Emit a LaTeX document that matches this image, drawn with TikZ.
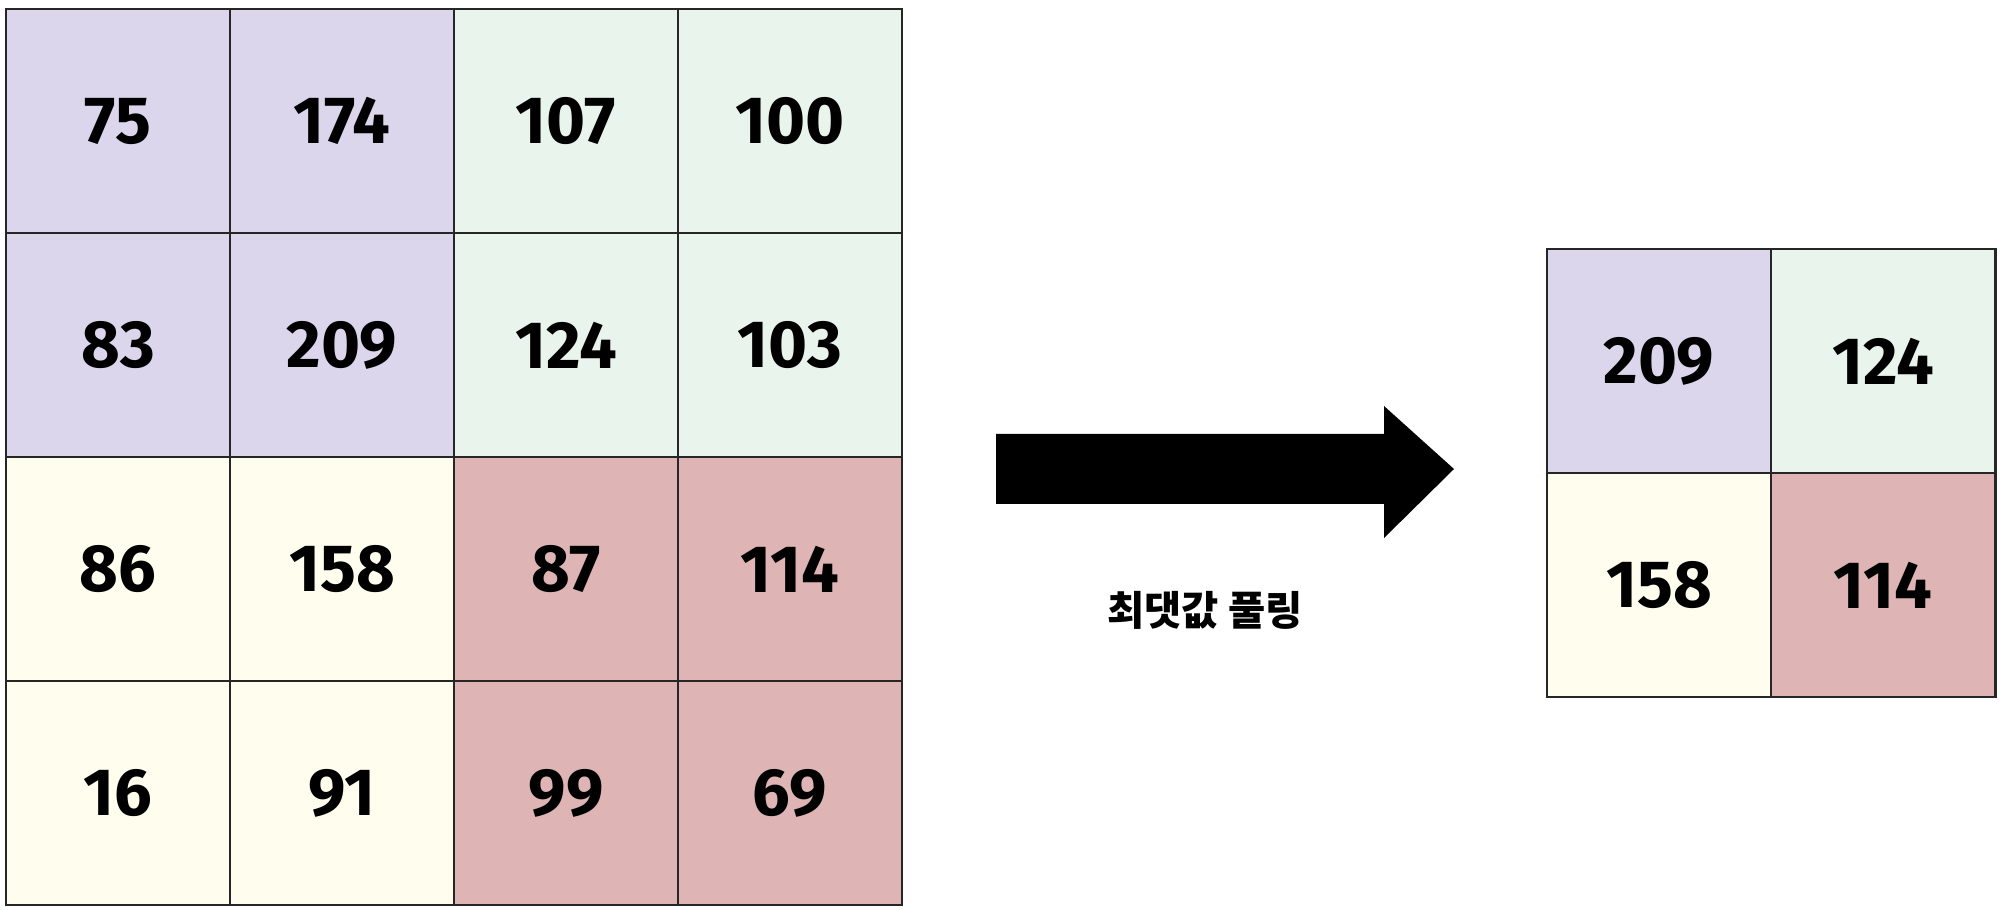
\documentclass[tikz,border=0pt]{standalone}
\usepackage{fontspec}
\setmainfont{Fira Sans}
\newfontfamily\kofont{Noto Sans CJK KR}
\usepackage{tikz}

\definecolor{cellpurple}{RGB}{220,214,236}
\definecolor{cellgreen}{RGB}{233,244,236}
\definecolor{cellcream}{RGB}{254,253,238}
\definecolor{cellpink}{RGB}{222,180,180}

\tikzset{
  cell/.style={draw=black!85, line width=0.8pt, minimum size=2.24cm, inner sep=0pt,
    font=\fontsize{19}{19}\selectfont\bfseries},
}

\begin{document}
\begin{tikzpicture}[x=0.01cm,y=-0.01cm]
\useasboundingbox (0,0) rectangle (2000,910);
% input grid 4x4
  \node[cell, fill=cellpurple] (a11) at (118,121) {75};
  \node[cell, fill=cellpurple] (a12) at (342,121) {174};
  \node[cell, fill=cellgreen]  (a13) at (566,121) {107};
  \node[cell, fill=cellgreen]  (a14) at (790,121) {100};
  \node[cell, fill=cellpurple] (a21) at (118,345) {83};
  \node[cell, fill=cellpurple] (a22) at (342,345) {209};
  \node[cell, fill=cellgreen]  (a23) at (566,345) {124};
  \node[cell, fill=cellgreen]  (a24) at (790,345) {103};
  \node[cell, fill=cellcream]  (a31) at (118,569) {86};
  \node[cell, fill=cellcream]  (a32) at (342,569) {158};
  \node[cell, fill=cellpink]   (a33) at (566,569) {87};
  \node[cell, fill=cellpink]   (a34) at (790,569) {114};
  \node[cell, fill=cellcream]  (a41) at (118,793) {16};
  \node[cell, fill=cellcream]  (a42) at (342,793) {91};
  \node[cell, fill=cellpink]   (a43) at (566,793) {99};
  \node[cell, fill=cellpink]   (a44) at (790,793) {69};
% arrow
  \fill[black] (996,434) -- (1384,434) -- (1384,406) -- (1454,469)
    -- (1384,538) -- (1384,504) -- (996,504) -- cycle;
  \node[font=\kofont\fontsize{11.5}{11.5}\selectfont\bfseries] (lbl) at (1205,610) {최댓값 풀링};
% output grid 2x2
  \node[cell, fill=cellpurple] (b11) at (1659,361) {209};
  \node[cell, fill=cellgreen]  (b12) at (1883,361) {124};
  \node[cell, fill=cellcream]  (b21) at (1659,585) {158};
  \node[cell, fill=cellpink]   (b22) at (1883,585) {114};
\end{tikzpicture}
\end{document}
